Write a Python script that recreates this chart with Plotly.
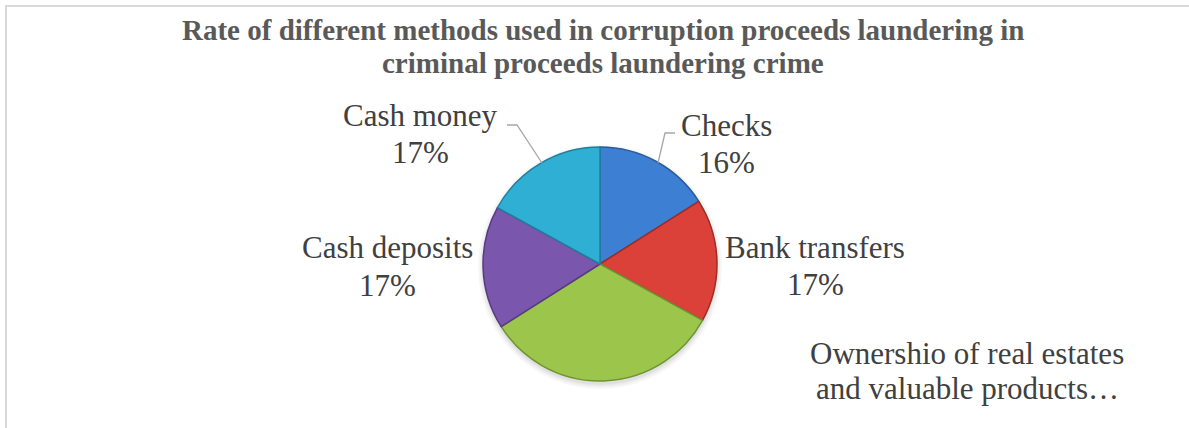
import plotly.graph_objects as go

# Laundering methods, clockwise from 12 o'clock
methods = [
    "Checks",
    "Bank transfers",
    "Ownershio of real estates and valuable products",
    "Cash deposits",
    "Cash money",
]
shares = [16, 17, 33, 17, 17]

# Label text as it appears next to each slice (the long one is cut short, no percentage)
label_line1 = ["Checks", "Bank transfers", "Ownershio of real estates", "Cash deposits", "Cash money"]
label_line2 = ["{p}%", "{p}%", "and valuable products…", "{p}%", "{p}%"]

title_lines = [
    "Rate of different methods used in corruption proceeds laundering in",
    "criminal proceeds laundering crime",
]

slice_colors = ["#3d7fd2", "#db4139", "#9cc64b", "#7b56ad", "#30afd5"]
edge_colors = ["#2b5c9e", "#9e2c26", "#6e9433", "#553b80", "#1f7f9d"]

W, H = 1189, 428
SERIF = "Liberation Serif, Times New Roman, serif"


def fx(px):
    return px / W


def fy(py):
    return 1 - py / H


# pie geometry in pixels
cx, cy, r = 600, 264, 117

fig = go.Figure(
    go.Pie(
        labels=methods,
        values=shares,
        sort=False,
        direction="clockwise",
        rotation=0,
        textinfo="none",
        hoverinfo="label+percent",
        marker=dict(colors=slice_colors, line=dict(color=edge_colors, width=1.5)),
        domain=dict(x=[fx(cx - r), fx(cx + r)], y=[fy(cy + r), fy(cy - r)]),
        showlegend=False,
    )
)

annotations = []

# two-line bold title, baselines at 40 px and 73 px
for text, base in zip(title_lines, (40, 73)):
    annotations.append(
        dict(
            text=f"<b>{text}</b>",
            x=fx(603),
            y=fy(base - 10),
            xref="paper",
            yref="paper",
            xanchor="center",
            yanchor="middle",
            showarrow=False,
            font=dict(family=SERIF, size=29, color="#595959"),
        )
    )

# label placement: (center x, baseline of line 1, baseline of line 2)
label_pos = [
    (726, 135, 172),
    (815, 258, 294),
    (967, 363, 398),
    (387, 258, 295),
    (421, 125, 162),
]

for i, (lx, b1, b2) in enumerate(label_pos):
    second = label_line2[i].format(p=shares[i])
    for text, base in ((label_line1[i], b1), (second, b2)):
        annotations.append(
            dict(
                text=text,
                x=fx(lx),
                y=fy(base - 10),
                xref="paper",
                yref="paper",
                xanchor="center",
                yanchor="middle",
                showarrow=False,
                font=dict(family=SERIF, size=31, color="#404040"),
            )
        )

# leader lines for the two upper labels
leaders = [
    [(675, 133), (665, 133), (658, 163)],
    [(507, 125), (517, 125), (542, 163)],
]
shapes = []
for pts in leaders:
    path = "M " + " L ".join(f"{fx(x)},{fy(y)}" for x, y in pts)
    shapes.append(
        dict(type="path", path=path, xref="paper", yref="paper",
             line=dict(color="#a6a6a6", width=1.3))
    )

# soft drop shadow under the pie
for grow, alpha in ((6, 0.03), (4, 0.04), (2, 0.05)):
    shapes.append(
        dict(type="circle", xref="paper", yref="paper", layer="below",
             x0=fx(cx - r - grow + 1), x1=fx(cx + r + grow - 1),
             y0=fy(cy + r + grow + 2), y1=fy(cy - r - grow + 4),
             line=dict(width=0), fillcolor=f"rgba(0,0,0,{alpha})")
    )

# chart frame
shapes.append(
    dict(type="rect", xref="paper", yref="paper",
         x0=fx(6), x1=fx(W + 10), y0=fy(H + 10), y1=fy(6),
         line=dict(color="#d9d9d9", width=2), fillcolor="rgba(0,0,0,0)", layer="below")
)

fig.update_layout(
    width=W,
    height=H,
    margin=dict(l=0, r=0, t=0, b=0),
    paper_bgcolor="white",
    plot_bgcolor="white",
    annotations=annotations,
    shapes=shapes,
)

fig.write_html("out.html")
